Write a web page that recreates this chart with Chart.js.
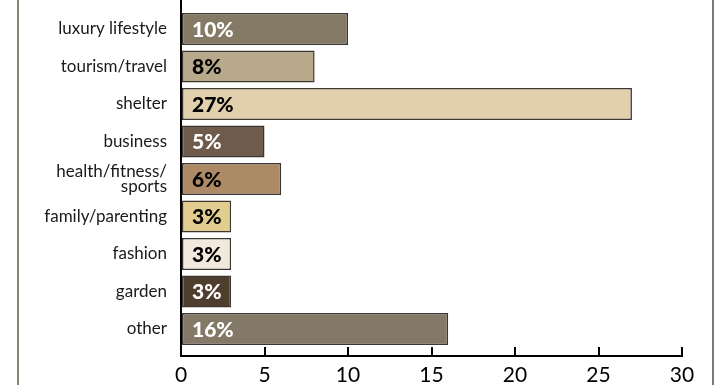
<!DOCTYPE html>
<html>
<head>
<meta charset="utf-8">
<script src="https://cdn.jsdelivr.net/npm/chart.js@4/dist/chart.umd.min.js"></script>
<style>
  html, body { margin: 0; padding: 0; background: #fff; }
  #wrap { position: relative; width: 725px; height: 385px; }
  #chart { position: absolute; left: 0; top: 0; }
  .edge { position: absolute; top: 0; bottom: 0; width: 2px; }
  #edgeLeft { left: 17px; background: #8b8271; }
  #edgeRight { left: 712px; background: #7a7a7a; }
</style>
</head>
<body>
<div id="wrap">
  <canvas id="chart" width="725" height="385"></canvas>
  <div class="edge" id="edgeLeft"></div>
  <div class="edge" id="edgeRight"></div>
</div>
<script>
// magazine categories, top to bottom
const categories = [
    "luxury lifestyle",
    "tourism/travel",
    "shelter",
    "business",
    ["health/fitness/", "sports"],
    "family/parenting",
    "fashion",
    "garden",
    "other",
];
const shares = [10, 8, 27, 5, 6, 3, 3, 3, 16];
const barColors = ["#857a66", "#b8a98b", "#e2cfab", "#6f5b4b", "#ad8a66", "#e1cd8f", "#f1e9dd", "#4f3d2d", "#847967"];
const valueColors = ["#fff", "#000", "#000", "#fff", "#000", "#000", "#000", "#fff", "#fff"];
const xTicks = [0, 5, 10, 15, 20, 25, 30];

const fontFace = "Lato, 'DejaVu Sans', sans-serif";

// percent labels drawn inside each bar, near its base
const valueLabels = {
    id: "valueLabels",
    afterDatasetsDraw(chart) {
        const ctx = chart.ctx;
        const meta = chart.getDatasetMeta(0);
        ctx.save();
        ctx.font = "900 21px " + fontFace;
        ctx.textAlign = "left";
        ctx.textBaseline = "middle";
        meta.data.forEach((bar, i) => {
            ctx.fillStyle = valueColors[i];
            ctx.fillText(shares[i] + "%", bar.base + 10, bar.y + 1);
        });
        ctx.restore();
    },
};

const ctx = document.getElementById("chart").getContext("2d");
new Chart(ctx, {
    type: "bar",
    data: {
        datasets: [{
            data: shares.map((v, i) => ({ x: v, y: i })),
            backgroundColor: barColors,
            borderColor: "#3b3631",
            borderWidth: 1.5,
            borderSkipped: false,
            barPercentage: 0.85,
            categoryPercentage: 1,
        }],
    },
    options: {
        indexAxis: "y",
        responsive: false,
        animation: false,
        layout: { padding: { top: 0, right: 43, bottom: 0, left: 0 } },
        plugins: {
            legend: { display: false },
            tooltip: { enabled: false },
        },
        scales: {
            x: {
                type: "linear",
                min: 0,
                max: 30,
                afterBuildTicks: (scale) => { scale.ticks = xTicks.map((v) => ({ value: v })); },
                afterFit: (scale) => { scale.height = 29; },
                grid: {
                    drawOnChartArea: false,
                    drawTicks: true,
                    tickLength: -9,
                    color: "#000",
                    lineWidth: 2,
                },
                border: { color: "#000", width: 2 },
                ticks: {
                    color: "#000",
                    padding: 16,
                    font: { family: fontFace, size: 21 },
                },
            },
            y: {
                type: "linear",
                reverse: true,
                offset: false,
                min: -0.773,
                max: 8.72,
                afterBuildTicks: (scale) => { scale.ticks = categories.map((c, i) => ({ value: i })); },
                afterFit: (scale) => {
                    scale.width = 181;
                    scale.paddingTop = 0;
                    scale.paddingBottom = 0;
                },
                grid: { display: false, drawTicks: false, offset: false },
                border: { color: "#000", width: 2 },
                ticks: {
                    color: "#1a1a1a",
                    padding: 14,
                    font: { family: fontFace, size: 17, lineHeight: 0.9 },
                    callback: (v) => categories[v],
                },
            },
        },
    },
    plugins: [valueLabels],
});
</script>
</body>
</html>
